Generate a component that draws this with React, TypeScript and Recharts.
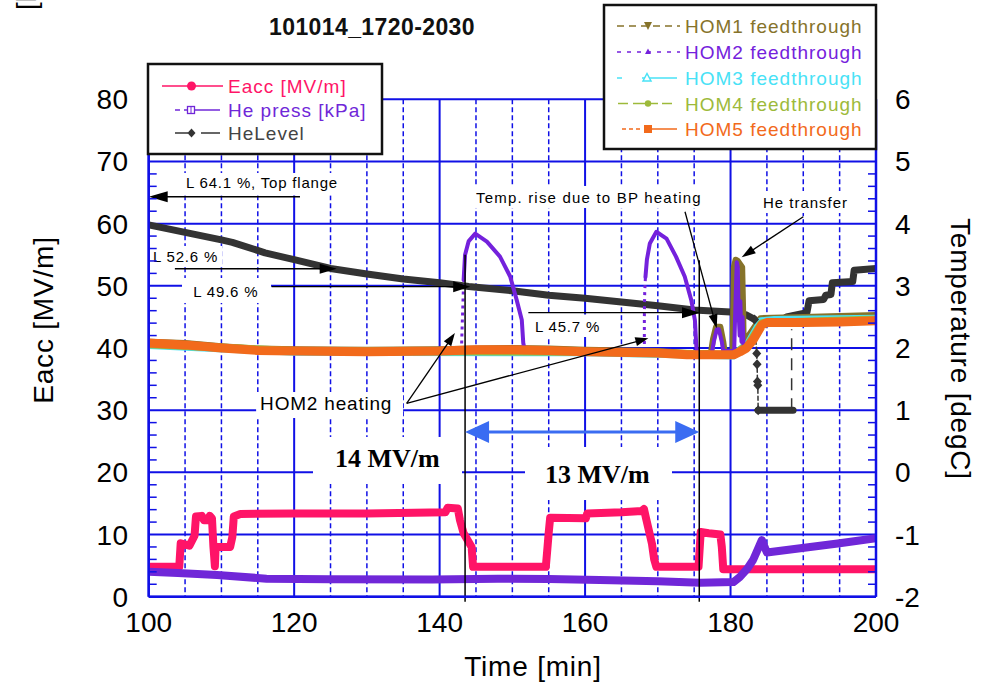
import React from 'react';
import {
  ComposedChart,
  Line,
  XAxis,
  YAxis,
  CartesianGrid,
  ReferenceLine,
  ReferenceArea,
  Legend,
} from 'recharts';

// ---- axes ---------------------------------------------------------------
const timeTicks = [100, 120, 140, 160, 180, 200];
const timeMinor = [105, 110, 115, 125, 130, 135, 145, 150, 155, 165, 170, 175, 185, 190, 195];
const eaccMajor = [0, 10, 20, 30, 40, 50, 60, 70, 80];
const eaccTicks = Array.from({ length: 41 }, (_, i) => i * 2);
const tempTicks = Array.from({ length: 41 }, (_, i) => Math.round((-2 + i * 0.2) * 10) / 10);

// ---- left axis series: [time min, value] -------------------------------
const eacc: [number, number][] = [
  [100, 4.8], [104.2, 4.8], [104.4, 8.6], [105.6, 8.2], [106.3, 9.8], [106.5, 12.9],
  [107.3, 13.0], [107.6, 12.3], [108.1, 12.3], [108.4, 13.0], [108.7, 12.6], [108.9, 8.0],
  [109.0, 6.5], [109.1, 4.9], [109.2, 8.0], [111.2, 8.0], [111.5, 9.6], [111.7, 12.9],
  [112.6, 13.3], [120, 13.4], [130, 13.4], [140.8, 13.6], [141.1, 14.3], [142.5, 14.2],
  [142.8, 12.3], [143.3, 10.2], [143.6, 9.6], [144.4, 8.0], [144.6, 4.8], [154.6, 4.8],
  [154.8, 7.5], [155.0, 10.3], [155.2, 12.7], [160.1, 12.6], [160.3, 13.4], [165, 13.6],
  [167.8, 13.8], [168.1, 14.1], [168.4, 12.5], [169.2, 8.5], [169.5, 6.0], [169.8, 4.8],
  [175.6, 4.8], [175.9, 10.4], [177.0, 10.2], [178.6, 10.0], [178.8, 8.0], [179.0, 4.4],
  [200, 4.4],
];

const hePress: [number, number][] = [
  [100, 4.0], [104, 3.8], [109.4, 3.5], [116.2, 2.9], [125, 2.8], [139, 2.75], [148, 2.9],
  [155, 2.85], [162, 2.7], [170, 2.5], [175.8, 2.25], [180.4, 2.35], [181.3, 3.2],
  [182.3, 4.5], [183.1, 5.9], [184.0, 8.3], [184.3, 9.1], [185.0, 7.1], [189.6, 7.8],
  [195, 8.6], [200, 9.4],
];

const heLevel: [number, number][] = [
  [100, 59.8], [105, 58.6], [110, 57.4], [111.5, 57.0], [116, 55.3], [120, 54.2],
  [125, 52.8], [130, 51.9], [135, 51.1], [140, 50.5], [144, 49.9], [150, 49.2],
  [155, 48.5], [160, 48.0], [165, 47.4], [170, 46.8], [175, 46.1], [180, 45.8],
  [182.2, 45.3], [183.3, 44.6],
];
const heLevelDrop: [number, number][] = [
  [183.3, 44.6], [183.6, 39.1], [183.65, 37.4], [183.7, 34.6], [183.75, 34.0], [183.8, 30.0],
];
const heLevelLow: [number, number][] = [[183.8, 30.0], [188.6, 30.0]];
const heLevelGap: [number, number][] = [[188.4, 30.0], [188.4, 43.0]];
const heLevelRefill: [number, number][] = [
  [187.7, 45.0], [190.5, 45.7], [190.8, 47.6], [192.8, 47.8], [193.1, 48.5], [193.8, 48.6],
  [194.0, 50.5], [196.8, 50.7], [197.0, 52.5], [200, 52.8],
];

// ---- right axis series (degC) -----------------------------------------
const hom1: [number, number][] = [
  [100, 2.1], [105, 2.08], [110, 2.03], [115, 1.99], [120, 1.98], [130, 1.97], [140, 1.98],
  [145, 1.99], [150, 2.0], [155, 1.99], [160, 1.97], [170, 1.95], [174, 1.92], [177.3, 1.92],
  [177.6, 2.15], [178.0, 2.34], [178.6, 2.34], [179.0, 2.1], [179.2, 1.93], [180.3, 1.95],
  [180.45, 3.3], [180.7, 3.42], [181.0, 3.4], [181.6, 3.3], [181.75, 2.5], [181.8, 2.08],
  [184.1, 2.48], [190, 2.5], [200, 2.53],
];
const hom2Early: [number, number][] = [
  [100, 2.06], [120, 1.95], [143.0, 1.96],
];
const hom2Rise1: [number, number][] = [
  [143.0, 1.96], [143.1, 2.35], [143.2, 2.7], [143.3, 3.09],
];
const hom2Arc1: [number, number][] = [
  [143.3, 3.09], [143.5, 3.5], [144.0, 3.72], [144.9, 3.84], [146.5, 3.71], [148.3, 3.47],
  [149.7, 3.15], [150.6, 2.77], [151.3, 2.45], [151.5, 2.08], [151.7, 1.97], [160, 1.94],
  [168.15, 1.95],
];
const hom2Rise2: [number, number][] = [
  [168.15, 1.95], [168.15, 2.5], [168.2, 2.9], [168.3, 3.14],
];
const hom2Late: [number, number][] = [
  [168.3, 3.14], [168.5, 3.42], [168.9, 3.68], [169.8, 3.87], [171.2, 3.76], [172.5, 3.47],
  [173.7, 3.15], [174.6, 2.77], [175.1, 2.45], [175.3, 2.02], [175.5, 1.9], [177.4, 1.9],
  [177.7, 2.1], [178.1, 2.3], [178.4, 2.3], [178.8, 2.1], [179.0, 1.95], [180.5, 1.95],
  [180.7, 2.8], [180.85, 3.38], [181.0, 3.3], [181.1, 2.6], [181.25, 2.2], [181.35, 2.75],
  [181.5, 2.1], [181.65, 2.5], [181.8, 2.0], [183, 2.15], [184.5, 2.4], [200, 2.45],
];
const hom3: [number, number][] = [
  [100, 2.05], [120, 1.94], [160, 1.93], [180.4, 1.88], [182.5, 2.08], [184.2, 2.43],
  [186, 2.45], [200, 2.47],
];
const hom4: [number, number][] = [
  [100, 2.06], [120, 1.95], [160, 1.94], [180.4, 1.89], [182.5, 2.06], [184.3, 2.4],
  [200, 2.46],
];
const hom5: [number, number][] = [
  [100, 2.08], [105, 2.05], [110, 2.0], [115, 1.96], [120, 1.95], [130, 1.94], [140, 1.95],
  [145, 1.97], [150, 1.97], [155, 1.96], [160, 1.94], [170, 1.92], [174, 1.89], [180.4, 1.89],
  [181.3, 1.94], [182.2, 2.0], [183.1, 2.13], [183.8, 2.27], [184.3, 2.37], [185, 2.41],
  [190, 2.41], [195, 2.42], [200, 2.44],
];

// ---- styling ------------------------------------------------------------
const SANS = '"Liberation Sans", Arial, Helvetica, sans-serif';
const SERIF = '"Liberation Serif", "Times New Roman", serif';
const GRID = '#1010E6';
const C = {
  eacc: '#FF1467',
  press: '#7027D8',
  level: '#333333',
  hom1: '#86732A',
  hom2: '#7421DC',
  hom3: '#48E2F6',
  hom4: '#9DBA3A',
  hom5: '#F26A1B',
  range: '#3A6CF2',
};

const pts = (a: [number, number][]) => a.map(([t, v]) => ({ t, v }));

// ---- tick renderers -----------------------------------------------------
const LeftTick = (p: any) => {
  const v = p.payload.value;
  if (v % 10 !== 0) {
    return <line x1={p.x} x2={p.x + 8} y1={p.y} y2={p.y} stroke={GRID} strokeWidth={1.5} />;
  }
  return (
    <text x={p.x - 20} y={p.y + 10} textAnchor="end" fontSize={28} fontFamily={SANS} fill="#000" letterSpacing={0.5}>
      {v}
    </text>
  );
};

const RightTick = (p: any) => {
  const v = p.payload.value;
  const idx = Math.round((v + 2) * 5);
  if (idx % 5 !== 0) {
    return <line x1={p.x - 8} x2={p.x} y1={p.y} y2={p.y} stroke={GRID} strokeWidth={1.5} />;
  }
  return (
    <text x={p.x + 19} y={p.y + 10} textAnchor="start" fontSize={28} fontFamily={SANS} fill="#000">
      {Math.round(v)}
    </text>
  );
};

const BottomTick = (p: any) => (
  <text x={p.x} y={p.y + 35} textAnchor="middle" fontSize={28} fontFamily={SANS} fill="#000">
    {p.payload.value}
  </text>
);

// axis titles sit at fixed spots around the plot frame
const AxisTitle = (props: { px: number; py: number; rot: number; caption: string }) => (
  <text
    transform={`translate(${props.px},${props.py}) rotate(${props.rot})`}
    textAnchor="middle"
    fontSize={28}
    fontFamily={SANS}
    fill="#000"
    letterSpacing={0.8}
  >
    {props.caption}
  </text>
);

// ---- annotation shapes --------------------------------------------------
type ArrowOpt = { head?: number; half?: number; color?: string; width?: number; both?: boolean };

const arrow = (o: ArrowOpt) => (p: any) => {
  const x1 = Number(p.x1), y1 = Number(p.y1), x2 = Number(p.x2), y2 = Number(p.y2);
  const dx = x2 - x1, dy = y2 - y1;
  const L = Math.hypot(dx, dy) || 1;
  const ux = dx / L, uy = dy / L;
  const h = o.head ?? 14, w = o.half ?? 5, color = o.color ?? '#000';
  const headAt = (tx: number, ty: number, sx: number, sy: number) => {
    const bx = tx - sx * h, by = ty - sy * h;
    return `${tx},${ty} ${bx - sy * w},${by + sx * w} ${bx + sy * w},${by - sx * w}`;
  };
  const sx0 = o.both ? x1 + ux * h * 0.8 : x1;
  const sy0 = o.both ? y1 + uy * h * 0.8 : y1;
  return (
    <g>
      <line x1={sx0} y1={sy0} x2={x2 - ux * h * 0.8} y2={y2 - uy * h * 0.8} stroke={color} strokeWidth={o.width ?? 1.3} />
      <polygon points={headAt(x2, y2, ux, uy)} fill={color} />
      {o.both ? <polygon points={headAt(x1, y1, -ux, -uy)} fill={color} /> : null}
    </g>
  );
};

type NoteOpt = { dx: number; dy: number; size?: number; bold?: boolean; serif?: boolean; ls?: number };
const note = (text: string, o: NoteOpt) => (p: any) => (
  <g>
    <rect x={p.x} y={p.y} width={p.width} height={p.height} fill="#fff" />
    <text
      x={p.x + o.dx}
      y={p.y + o.dy}
      fontSize={o.size ?? 15}
      fontWeight={o.bold ? 'bold' : 'normal'}
      fontFamily={o.serif ? SERIF : SANS}
      letterSpacing={o.ls ?? 0}
      fill="#000"
    >
      {text}
    </text>
  </g>
);

const Diamond = (p: any) => {
  const { cx, cy, index } = p;
  if (cx == null || cy == null) return <g key={index} />;
  return <path key={index} d={`M${cx},${cy - 5} L${cx + 4.5},${cy} L${cx},${cy + 5} L${cx - 4.5},${cy} Z`} fill={C.level} />;
};

// ---- legend boxes and title --------------------------------------------
const LegendText = (props: { x: number; y: number; color: string; text: string }) => (
  <text x={props.x} y={props.y} fontSize={19} fontFamily={SANS} fill={props.color} letterSpacing={1}>
    {props.text}
  </text>
);

const Overlay = () => (
  <svg
    width={988}
    height={682}
    style={{ position: 'absolute', left: 0, top: 0, overflow: 'visible', pointerEvents: 'none' }}
  >
    <text transform="translate(35.5,10) rotate(-90)" fontSize={28} fontFamily={SANS} fill="#000">
      [kPa]
    </text>
    <text x={372} y={35} textAnchor="middle" fontSize={23} fontWeight="bold" fontFamily={SANS} fill="#111" letterSpacing={0.4}>
      101014_1720-2030
    </text>

    {/* left legend */}
    <rect x={148} y={64} width={234} height={90} fill="#fff" stroke="#111" strokeWidth={2.5} />
    <line x1={162} x2={223} y1={86} y2={86} stroke={C.eacc} strokeWidth={1.5} />
    <circle cx={191.5} cy={86} r={4.5} fill={C.eacc} />
    <LegendText x={228} y={93} color={C.eacc} text="Eacc [MV/m]" />

    <line x1={175} x2={180} y1={110} y2={110} stroke={C.press} strokeWidth={1.5} />
    <line x1={184} x2={220} y1={110} y2={110} stroke={C.press} strokeWidth={1.5} />
    <rect x={187.5} y={106.5} width={7} height={7} fill="#fff" stroke={C.press} strokeWidth={1.3} />
    <line x1={191} x2={191} y1={106.5} y2={113.5} stroke={C.press} strokeWidth={1} />
    <LegendText x={228} y={117} color={C.press} text="He press [kPa]" />

    <line x1={175} x2={188} y1={133} y2={133} stroke={C.level} strokeWidth={1.5} />
    <path d="M191.5,128.5 L195.5,133 L191.5,137.5 L187.5,133 Z" fill={C.level} />
    <line x1={201} x2={220} y1={133} y2={133} stroke={C.level} strokeWidth={1.5} />
    <LegendText x={228} y={140} color="#444" text="HeLevel" />

    {/* right legend */}
    <rect x={604} y={5} width={272} height={144} fill="#fff" stroke="#111" strokeWidth={2.5} />
    <line x1={617} x2={680} y1={26} y2={26} stroke={C.hom1} strokeWidth={1.5} strokeDasharray="7 5" />
    <path d="M644,22 L652,22 L648,30 Z" fill={C.hom1} />
    <LegendText x={685} y={33} color={C.hom1} text="HOM1 feedthrough" />

    <line x1={617} x2={680} y1={52} y2={52} stroke={C.hom2} strokeWidth={1.5} strokeDasharray="4 6" />
    <path d="M648,48.5 L651,54 L645,54 Z" fill={C.hom2} />
    <LegendText x={685} y={59} color={C.hom2} text="HOM2 feedthrough" />

    <line x1={617} x2={622} y1={78} y2={78} stroke={C.hom3} strokeWidth={1.5} />
    <line x1={642} x2={677} y1={78} y2={78} stroke={C.hom3} strokeWidth={1.5} />
    <path d="M647,73.5 L651,81 L643,81 Z" fill="#fff" stroke={C.hom3} strokeWidth={1.5} />
    <LegendText x={685} y={85} color={C.hom3} text="HOM3 feedthrough" />

    <line x1={618} x2={628} y1={103.5} y2={103.5} stroke={C.hom4} strokeWidth={1.5} />
    <line x1={633} x2={658} y1={103.5} y2={103.5} stroke={C.hom4} strokeWidth={1.5} />
    <line x1={662} x2={672} y1={103.5} y2={103.5} stroke={C.hom4} strokeWidth={1.5} />
    <circle cx={648} cy={103.5} r={3.2} fill={C.hom4} />
    <LegendText x={685} y={111} color={C.hom4} text="HOM4 feedthrough" />

    <line x1={622} x2={642} y1={129} y2={129} stroke={C.hom5} strokeWidth={1.5} strokeDasharray="4 3" />
    <line x1={652} x2={677} y1={129} y2={129} stroke={C.hom5} strokeWidth={1.5} />
    <rect x={644} y={125} width={8} height={8} fill={C.hom5} />
    <LegendText x={685} y={136} color={C.hom5} text="HOM5 feedthrough" />
  </svg>
);

// ---- chart --------------------------------------------------------------
export default function App() {
  const lineBase = {
    dataKey: 'v',
    dot: false,
    isAnimationActive: false,
    strokeLinejoin: 'round' as const,
    strokeLinecap: 'round' as const,
    type: 'linear' as const,
    legendType: 'none' as const,
    activeDot: false,
  };

  return (
    <div style={{ position: 'absolute', left: 0, top: 0, width: 988, height: 682, background: '#fff' }}>
      <ComposedChart width={988} height={682} margin={{ top: 99.3, right: 52, bottom: 45.3, left: 88.7 }}>
        <CartesianGrid
          yAxisId="left"
          horizontalValues={eaccMajor}
          verticalValues={timeTicks}
          stroke={GRID}
          strokeWidth={2}
          fill="none"
        />
        <CartesianGrid
          yAxisId="left"
          horizontal={false}
          verticalValues={timeMinor}
          stroke={GRID}
          strokeWidth={1.5}
          strokeDasharray="5 3"
          fill="none"
        />
        <XAxis
          dataKey="t"
          type="number"
          domain={[100, 200]}
          ticks={timeTicks}
          interval={0}
          allowDataOverflow
          height={40}
          tickSize={0}
          tickMargin={0}
          tickLine={false}
          tick={BottomTick}
          axisLine={{ stroke: GRID, strokeWidth: 2.5 }}
          label={<AxisTitle px={533} py={676} rot={0} caption="Time [min]" />}
        />
        <YAxis
          yAxisId="left"
          type="number"
          domain={[0, 80]}
          ticks={eaccTicks}
          interval={0}
          allowDataOverflow
          width={60}
          tickSize={0}
          tickMargin={0}
          tickLine={false}
          tick={LeftTick}
          axisLine={{ stroke: GRID, strokeWidth: 2.5 }}
          label={<AxisTitle px={53} py={320} rot={-90} caption="Eacc [MV/m]" />}
        />
        <YAxis
          yAxisId="right"
          orientation="right"
          type="number"
          domain={[-2, 6]}
          ticks={tempTicks}
          interval={0}
          allowDataOverflow
          width={60}
          tickSize={0}
          tickMargin={0}
          tickLine={false}
          tick={RightTick}
          axisLine={{ stroke: GRID, strokeWidth: 2.5 }}
          label={<AxisTitle px={951} py={349} rot={90} caption="Temperature [degC]" />}
        />

        {/* He level */}
        <Line {...lineBase} data={pts(heLevel)} yAxisId="left" stroke={C.level} strokeWidth={7} />
        <Line
          {...lineBase}
          data={pts(heLevelDrop)}
          yAxisId="left"
          stroke={C.level}
          strokeWidth={1.5}
          strokeDasharray="4 3"
          dot={Diamond}
        />
        <Line {...lineBase} data={pts(heLevelLow)} yAxisId="left" stroke={C.level} strokeWidth={7} />
        <Line {...lineBase} data={pts(heLevelGap)} yAxisId="left" stroke={C.level} strokeWidth={1.5} strokeDasharray="12 8" strokeLinecap="butt" />
        <Line {...lineBase} data={pts(heLevelRefill)} yAxisId="left" stroke={C.level} strokeWidth={7} />

        {/* Eacc and He pressure */}
        <Line {...lineBase} data={pts(eacc)} yAxisId="left" stroke={C.eacc} strokeWidth={8} />
        <Line {...lineBase} data={pts(hePress)} yAxisId="left" stroke={C.press} strokeWidth={8} />

        {/* HOM feedthrough temperatures */}
        <Line {...lineBase} data={pts(hom1)} yAxisId="right" stroke={C.hom1} strokeWidth={6} />
        <Line {...lineBase} data={pts(hom3)} yAxisId="right" stroke={C.hom3} strokeWidth={8} />
        <Line {...lineBase} data={pts(hom4)} yAxisId="right" stroke={C.hom4} strokeWidth={8} />
        <Line {...lineBase} data={pts(hom2Early)} yAxisId="right" stroke={C.hom2} strokeWidth={4} />
        <Line {...lineBase} data={pts(hom2Rise1)} yAxisId="right" stroke={C.hom2} strokeWidth={3} strokeDasharray="3 4" strokeLinecap="butt" />
        <Line {...lineBase} data={pts(hom2Arc1)} yAxisId="right" stroke={C.hom2} strokeWidth={4} />
        <Line {...lineBase} data={pts(hom2Rise2)} yAxisId="right" stroke={C.hom2} strokeWidth={3} strokeDasharray="3 4" strokeLinecap="butt" />
        <Line {...lineBase} data={pts(hom2Late)} yAxisId="right" stroke={C.hom2} strokeWidth={4} />
        <Line {...lineBase} data={pts(hom5)} yAxisId="right" stroke={C.hom5} strokeWidth={9} />

        {/* text boxes */}
        <ReferenceArea yAxisId="left" x1={104.72} x2={127.95} y1={64.53} y2={68.15} ifOverflow="visible"
          shape={note('L 64.1 %, Top flange', { dx: 3, dy: 15.5, ls: 0.8 })} />
        <ReferenceArea yAxisId="left" x1={100.18} x2={110.08} y1={53.19} y2={56.41} ifOverflow="visible"
          shape={note('L 52.6 %', { dx: 3, dy: 15.7, ls: 0.8 })} />
        <ReferenceArea yAxisId="left" x1={104.58} x2={116.82} y1={47.24} y2={51.26} ifOverflow="visible"
          shape={note('L 49.6 %', { dx: 11.3, dy: 18.7, ls: 0.8 })} />
        <ReferenceArea yAxisId="left" x1={152.15} x2={162.88} y1={41.77} y2={45.39} ifOverflow="visible"
          shape={note('L 45.7 %', { dx: 7, dy: 17.2, ls: 0.8 })} />
        <ReferenceArea yAxisId="left" x1={144.31} x2={176.62} y1={62.52} y2={66.06} ifOverflow="visible"
          shape={note('Temp. rise due to BP heating', { dx: 5, dy: 17, ls: 1.2 })} />
        <ReferenceArea yAxisId="left" x1={183.9} x2={196.7} y1={61.71} y2={65.25} ifOverflow="visible"
          shape={note('He transfer', { dx: 4, dy: 17.3, ls: 1 })} />
        <ReferenceArea yAxisId="left" x1={114.77} x2={134.98} y1={28.74} y2={32.92} ifOverflow="visible"
          shape={note('HOM2 heating', { dx: 4, dy: 18, size: 19, ls: 0.8 })} />
        <ReferenceArea yAxisId="left" x1={122.59} x2={143.08} y1={18.13} y2={25.69} ifOverflow="visible"
          shape={note('14 MV/m', { dx: 22, dy: 29.7, size: 26, bold: true, serif: true })} />
        <ReferenceArea yAxisId="left" x1={151.74} x2={171.95} y1={15.55} y2={24.08} ifOverflow="visible"
          shape={note('13 MV/m', { dx: 20, dy: 36.3, size: 26, bold: true, serif: true })} />

        {/* arrows */}
        <ReferenceLine yAxisId="left" ifOverflow="visible" segment={[{ x: 120.8, y: 64.33 }, { x: 100, y: 64.33 }]}
          shape={arrow({ head: 19, half: 5.5 })} />
        <ReferenceLine yAxisId="left" ifOverflow="visible" segment={[{ x: 103.6, y: 52.75 }, { x: 125.85, y: 52.75 }]}
          shape={arrow({ head: 17, half: 5 })} />
        <ReferenceLine yAxisId="left" ifOverflow="visible" segment={[{ x: 116.9, y: 49.86 }, { x: 144.2, y: 49.86 }]}
          shape={arrow({ head: 17, half: 5.5 })} />
        <ReferenceLine yAxisId="left" ifOverflow="visible" segment={[{ x: 152.2, y: 45.68 }, { x: 175.8, y: 45.68 }]}
          shape={arrow({ head: 18, half: 5.5 })} />
        <ReferenceLine yAxisId="left" ifOverflow="visible" segment={[{ x: 173.74, y: 61.92 }, { x: 178.1, y: 43.17 }]}
          shape={arrow({ head: 14, half: 4.5 })} />
        <ReferenceLine yAxisId="left" ifOverflow="visible" segment={[{ x: 190.0, y: 61.12 }, { x: 181.53, y: 54.59 }]}
          shape={arrow({ head: 14, half: 4.5 })} />
        <ReferenceLine yAxisId="left" ifOverflow="visible" segment={[{ x: 135.47, y: 31.1 }, { x: 142.1, y: 42.4 }]}
          shape={arrow({ head: 13, half: 4.5 })} />
        <ReferenceLine yAxisId="left" ifOverflow="visible" segment={[{ x: 135.47, y: 31.1 }, { x: 168.7, y: 41.56 }]}
          shape={arrow({ head: 13, half: 4.5 })} />

        {/* operating-range markers */}
        <ReferenceLine yAxisId="left" ifOverflow="visible" segment={[{ x: 143.5, y: 55.0 }, { x: 143.5, y: -0.8 }]}
          stroke="#000" strokeWidth={1.5} />
        <ReferenceLine yAxisId="left" ifOverflow="visible" segment={[{ x: 175.7, y: 54.1 }, { x: 175.7, y: -0.8 }]}
          stroke="#000" strokeWidth={1.5} />
        <ReferenceLine yAxisId="left" ifOverflow="visible" segment={[{ x: 143.5, y: 26.5 }, { x: 175.7, y: 26.5 }]}
          shape={arrow({ head: 24, half: 11, color: C.range, width: 3, both: true })} />

        <Legend
          verticalAlign="middle"
          align="center"
          layout="horizontal"
          wrapperStyle={{ position: 'absolute', left: 0, top: 0, width: 0, height: 0, overflow: 'visible' }}
          content={() => <Overlay />}
        />
      </ComposedChart>
    </div>
  );
}
